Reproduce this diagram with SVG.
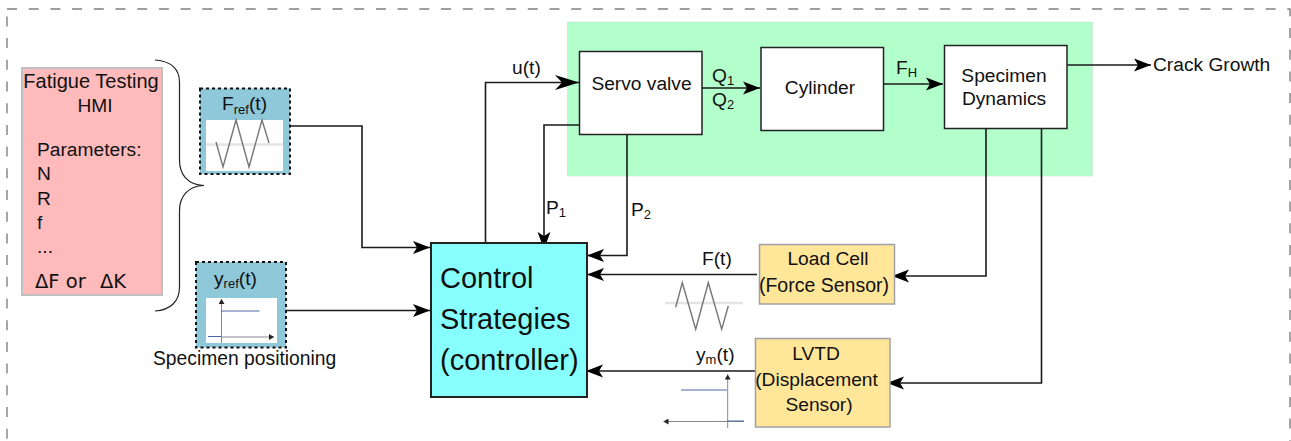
<svg xmlns="http://www.w3.org/2000/svg" width="1291" height="441" viewBox="0 0 1291 441">
<style>
text{font-family:"Liberation Sans",Arial,sans-serif;font-size:19.200px;fill:#111}
.m{text-anchor:middle}
.s{font-size:13px}
.box{fill:#fff;stroke:#222;stroke-width:1.5}
.sensor{fill:#ffe699;stroke:#a0a0a8;stroke-width:1.5}
.ref{fill:#8ec8d9;stroke:#111;stroke-width:2;stroke-dasharray:3 3}
.con{fill:none;stroke:#1a1a1a;stroke-width:1.6;marker-end:url(#arrow)}
.wave{fill:none;stroke:#777;stroke-width:1.4}
.blue{stroke:#4a66a8;stroke-width:1.2;fill:none}
.axis{stroke:#888;stroke-width:1;fill:none}
.big{font-size:29px}
</style>
<defs>
<marker id="arrow" markerUnits="userSpaceOnUse" markerWidth="18" markerHeight="14" refX="17" refY="7" orient="auto"><path d="M0,0.500 L17,7 L0,13.500 L4,7 Z" fill="#000"/></marker>
<marker id="arrow-long" markerUnits="userSpaceOnUse" markerWidth="25" markerHeight="16" refX="24" refY="8" orient="auto"><path d="M0,0.500 L24,8 L0,15.500 L7,8 Z" fill="#000"/></marker>
<marker id="small" markerUnits="userSpaceOnUse" markerWidth="6" markerHeight="6" refX="5" refY="3" orient="auto"><path d="M0,0 L5,3 L0,6 Z" fill="#222"/></marker>
<filter id="soft" x="-10%" y="-10%" width="120%" height="120%"><feGaussianBlur stdDeviation="0.700"/></filter>
</defs>

<rect id="frame" x="7" y="9" width="1283" height="440" fill="none" stroke="#808080" stroke-width="1.400" stroke-dasharray="10 11.700"/>
<rect id="plant-area" x="567.500" y="22" width="525" height="154" fill="#b3ffcc" stroke="#bcdcc8" stroke-width="1" stroke-dasharray="1 1"/>

<g id="connectors">
<path class="con" d="M290,126 H362 V247.500 H430"/>
<path class="con" d="M286,310.500 H430"/>
<path class="con" d="M485.500,243 V82.500 H579" style="marker-end:url(#arrow-long)"/>
<path class="con" d="M579,125 H544 V249"/>
<path class="con" d="M627,135 V255.500 H587"/>
<path class="con" d="M757,274.500 H587"/>
<path class="con" d="M755,371 H586"/>
<path class="con" d="M702,88 H760"/>
<path class="con" d="M884,84 H943"/>
<path class="con" d="M1067,65 H1151"/>
<path class="con" d="M986,128 V276 H892"/>
<path class="con" d="M1041.500,128 V383 H887"/>
<path d="M155,60 C172,61 179.500,70 179.500,82 V160 C179.500,175 188,185 204,185.500 C188,186 179.500,196 179.500,211 V287 C179.500,302 170,310 155,311" fill="none" stroke="#222" stroke-width="1.200"/>
</g>

<g id="hmi">
<rect x="22" y="68" width="140" height="227" fill="#ffbbbb" stroke="#c0c0c0" stroke-width="2"/>
<text x="91" y="88" class="m" style="font-size:20px">Fatigue Testing</text>
<text x="95" y="112" class="m">HMI</text>
<text x="37" y="156">Parameters:</text>
<text x="37" y="180">N</text>
<text x="37" y="205">R</text>
<text x="37" y="229">f</text>
<text x="37" y="253">...</text>
<text x="35" y="288" style="font-family:'DejaVu Sans',sans-serif;font-size:19.500px">ΔF or<tspan x="100">ΔK</tspan></text>
</g>

<g id="fref">
<rect class="ref" x="200" y="88.500" width="90" height="85.500"/>
<rect x="206" y="120" width="77" height="51" fill="#fff"/>
<g filter="url(#soft)">
<path d="M206,144.500 H283" stroke="#e4e4e4" stroke-width="2.500" fill="none"/>
<path class="wave" d="M216,142 L223,167 L236,120 L249,167 L262,120 L269,143"/>
</g>
<text x="222" y="110">F<tspan class="s" dy="4">ref</tspan><tspan dy="-4">(t)</tspan></text>
</g>

<g id="yref">
<rect class="ref" x="196" y="262" width="90" height="85.500"/>
<rect x="206" y="298" width="71" height="45" fill="#fff"/>
<path class="axis" d="M221.500,343 V299" marker-end="url(#small)"/>
<path class="axis" d="M221,337 H274" marker-end="url(#small)"/>
<path class="blue" d="M221,311 H259.500 M208,336.500 H221"/>
<text x="214" y="285">y<tspan class="s" dy="3">ref</tspan><tspan dy="-3">(t)</tspan></text>
<text x="153" y="365" style="font-size:19.300px">Specimen positioning</text>
</g>

<g id="controller">
<rect x="431" y="243" width="156" height="154" fill="#88ffff" stroke="#222" stroke-width="2"/>
<text x="440" y="288" class="big">Control</text>
<text x="440" y="329" class="big">Strategies</text>
<text x="440" y="370" class="big">(controller)</text>
</g>

<g id="servo-valve">
<rect class="box" x="579.500" y="51.500" width="122.500" height="83"/>
<text x="641.500" y="90" class="m">Servo valve</text>
</g>
<g id="cylinder">
<rect class="box" x="761" y="47.500" width="122.500" height="83"/>
<text x="820" y="94" class="m">Cylinder</text>
</g>
<g id="specimen">
<rect class="box" x="944.500" y="45.500" width="122.500" height="83"/>
<text x="1004" y="82" class="m">Specimen</text>
<text x="1004" y="105" class="m">Dynamics</text>
</g>

<g id="load-cell">
<rect class="sensor" x="759.500" y="244.500" width="135" height="59.500"/>
<text x="828" y="265" class="m">Load Cell</text>
<text x="824" y="292" class="m" style="font-size:19.500px">(Force Sensor)</text>
</g>
<g id="lvtd">
<rect class="sensor" x="755.500" y="338.500" width="134.500" height="88.500"/>
<text x="816" y="360" class="m">LVTD</text>
<text x="816.500" y="386" class="m">(Displacement</text>
<text x="819" y="411" class="m">Sensor)</text>
</g>

<g id="signal-labels">
<text x="512" y="74">u(t)</text>
<text x="712" y="82">Q<tspan class="s" dy="3">1</tspan></text>
<text x="712" y="106">Q<tspan class="s" dy="3">2</tspan></text>
<text x="896" y="74">F<tspan class="s" dy="3">H</tspan></text>
<text x="546" y="214">P<tspan class="s" dy="3">1</tspan></text>
<text x="631" y="216">P<tspan class="s" dy="3">2</tspan></text>
<text x="702" y="265">F(t)</text>
<text x="696" y="361">y<tspan class="s" dy="3">m</tspan><tspan dy="-3">(t)</tspan></text>
<text x="1153" y="71">Crack Growth</text>
</g>

<g id="force-plot" filter="url(#soft)">
<path d="M665,303 H743" stroke="#e4e4e4" stroke-width="2.500" fill="none"/>
<path class="wave" d="M675.700,307.300 L682.300,282.700 L695.700,329.300 L708.300,282.700 L721.700,329.300 L728.300,306"/>
</g>
<g id="displacement-plot">
<path class="axis" d="M727.700,428 V374.500" marker-end="url(#small)"/>
<path class="axis" d="M744,421.500 H663.500" marker-end="url(#small)"/>
<path class="blue" d="M681,390 H727 M727,421 H744"/>
</g>
</svg>
